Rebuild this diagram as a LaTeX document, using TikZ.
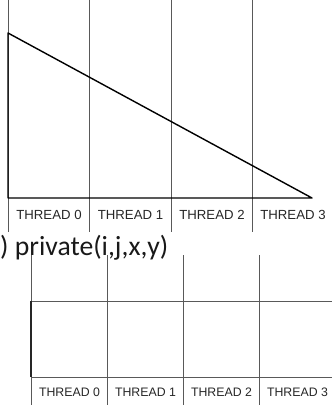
\documentclass[tikz,border=0pt]{standalone}
\usepackage{fontspec}
\newfontfamily\labelfont{Liberation Sans}
\newfontfamily\codefont{Carlito}
\begin{document}
\begin{tikzpicture}[x=1pt,y=-1pt,
  gridline/.style={draw=black!65, line width=0.8pt},
  edge/.style={draw=black, line width=1.4pt, line join=round},
  toplabel/.style={font=\labelfont\fontsize{13.2}{13.2}\selectfont, text=black!85, inner sep=0pt},
  botlabel/.style={font=\labelfont\fontsize{12.3}{12.3}\selectfont, text=black!85, inner sep=0pt},
  clause/.style={font=\codefont\fontsize{27.7}{27.7}\selectfont, text=black!90, inner sep=0pt, anchor=base west}]
\useasboundingbox (0,0) rectangle (332,405);

% upper panel: thread column separators
\foreach \x in {8,89.5,171,252.5}
  \draw[gridline] (\x,0) -- (\x,232);

% triangular workload
\coordinate (apex) at (8,33);
\coordinate (corner) at (8,198);
\coordinate (tip) at (312,198);
\draw[edge] (apex) -- (corner) -- (tip) -- cycle;

\node[toplabel] (ta0) at (49,215) {THREAD 0};
\node[toplabel] (ta1) at (130.5,215) {THREAD 1};
\node[toplabel] (ta2) at (212,215) {THREAD 2};
\node[toplabel] (ta3) at (293,215) {THREAD 3};

% lower panel: thread column separators
\foreach \x in {31,107,183,259}
  \draw[gridline] (\x,255) -- (\x,405);

% rectangular workload
\coordinate (ul) at (31,301);
\coordinate (ll) at (31,377);
\coordinate (ur) at (332,301);
\coordinate (lr) at (332,377);
\draw[gridline] (ul) -- (ur);
\draw[gridline] (ll) -- (lr);
\draw[draw=black!85, line width=1.2pt] (ul) -- (ll);

\node[botlabel] (tb0) at (69.5,392) {THREAD 0};
\node[botlabel] (tb1) at (145.5,392) {THREAD 1};
\node[botlabel] (tb2) at (221.5,392) {THREAD 2};
\node[botlabel] (tb3) at (297.5,392) {THREAD 3};

% clause text between the panels
\node[clause] (priv) at (0,255) {) private(i,j,x,y)};
\end{tikzpicture}
\end{document}
